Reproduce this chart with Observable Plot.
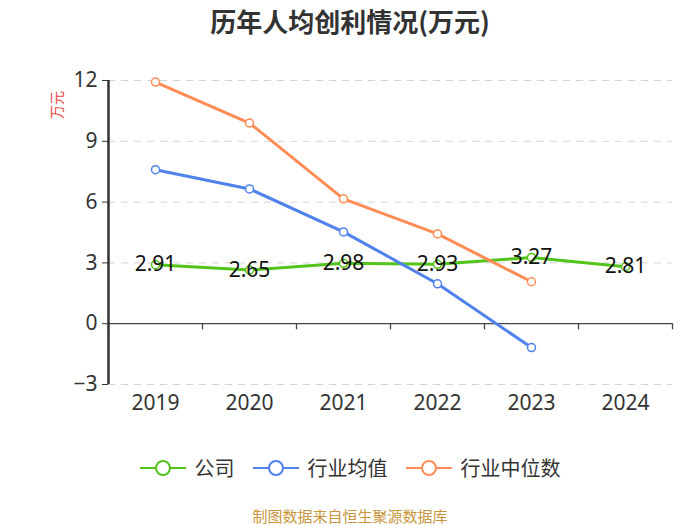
<!DOCTYPE html>
<html><head><meta charset="utf-8">
<script src="https://cdn.jsdelivr.net/npm/d3@7"></script>
<script src="https://cdn.jsdelivr.net/npm/@observablehq/plot@0.6"></script>
<style>
body{margin:0;background:#fff;font-family:"Noto Sans","Noto Sans CJK SC",sans-serif;}
#wrap{position:relative;width:700px;height:525px;overflow:hidden;}
#title{position:absolute;top:2px;left:0;width:700px;text-align:center;font-size:26px;font-weight:bold;color:#333;font-family:"Noto Sans CJK SC",sans-serif;z-index:2;}
#chart{position:absolute;top:45px;left:0;z-index:1;}
#ylab{position:absolute;left:42px;top:95px;color:#e8423f;font-size:14px;transform:rotate(-90deg);transform-origin:center;font-family:"Noto Sans CJK SC",sans-serif;z-index:3;}
#legend{position:absolute;top:453px;left:0;width:700px;display:flex;justify-content:center;align-items:center;font-size:20px;color:#333;font-family:"Noto Sans CJK SC",sans-serif;z-index:2;}
#legend .item{display:flex;align-items:center;margin:0 9px;}
#legend svg{margin-right:9px;}
#caption{position:absolute;top:507px;left:0;width:700px;line-height:18px;text-align:center;font-size:15px;color:#c8963c;font-family:"Noto Sans CJK SC",sans-serif;z-index:2;}
</style></head>
<body>
<div id="wrap">
<div id="title">历年人均创利情况(万元)</div>
<div id="ylab">万元</div>
<div id="chart"></div>
<div id="legend"></div>
<div id="caption">制图数据来自恒生聚源数据库</div>
</div>
<script>
const years = [2019, 2020, 2021, 2022, 2023, 2024];
const seriesNames = ["公司", "行业均值", "行业中位数"];
const colors = ["#52c41a", "#4f82ec", "#ff8c55"];
const company = [2.91, 2.65, 2.98, 2.93, 3.27, 2.81];
const industryAvg = [7.6, 6.65, 4.53, 1.97, -1.18, null];
const industryMedian = [11.92, 9.9, 6.16, 4.43, 2.07, null];
const yTicks = [-3, 0, 3, 6, 9, 12];

const rows = [];
[company, industryAvg, industryMedian].forEach((arr, i) => {
  arr.forEach((v, j) => { if (v !== null) rows.push({series: seriesNames[i], year: years[j], value: v}); });
});
const boundaries = [years[0] - 0.5, ...years.map(y => y + 0.5)];
const compRows = rows.filter(d => d.series === "公司");

const plot = Plot.plot({
  width: 700,
  height: 390,
  marginLeft: 108,
  marginRight: 28,
  marginTop: 35,
  marginBottom: 51,
  style: {fontFamily: '"Noto Sans","Noto Sans CJK SC",sans-serif', background: "transparent", overflow: "visible"},
  x: {type: "linear", domain: [years[0] - 0.5, years[years.length - 1] + 0.5]},
  y: {domain: [-3, 12]},
  color: {domain: seriesNames, range: colors},
  marks: [
    Plot.ruleY(yTicks.filter(t => t !== 0), {stroke: "#d4d4d4", strokeDasharray: "7,6", strokeWidth: 1}),
    Plot.ruleY([0], {stroke: "#444", strokeWidth: 1.3}),
    Plot.ruleX(boundaries, {y1: 0, y2: -0.3, stroke: "#444", strokeWidth: 1.3}),
    Plot.axisY({ticks: yTicks, tickSize: 6, tickPadding: 5, fontSize: 21, color: "#333", label: null}),
    Plot.axisX({ticks: years, tickFormat: d => String(d), tickSize: 0, tickPadding: 11, fontSize: 21, color: "#333", label: null}),
    Plot.ruleX([boundaries[0]], {stroke: "#333", strokeWidth: 2.5}),
    Plot.line(rows, {x: "year", y: "value", stroke: "series", z: "series", strokeWidth: 3}),
    Plot.dot(rows, {x: "year", y: "value", stroke: "series", fill: "#fff", r: 4, strokeWidth: 1.5}),
    Plot.text(compRows, {x: "year", y: "value", text: d => d.value.toFixed(2), fontSize: 21, fill: "#111"})
  ]
});
document.getElementById("chart").appendChild(plot);

const legend = document.getElementById("legend");
seriesNames.forEach((name, i) => {
  const item = document.createElement("div");
  item.className = "item";
  item.innerHTML = `<svg width="46" height="20"><line x1="0" y1="10" x2="46" y2="10" stroke="${colors[i]}" stroke-width="2"/><circle cx="23" cy="10" r="7" fill="#fff" stroke="${colors[i]}" stroke-width="2"/></svg><span>${name}</span>`;
  legend.appendChild(item);
});
</script>
</body></html>
